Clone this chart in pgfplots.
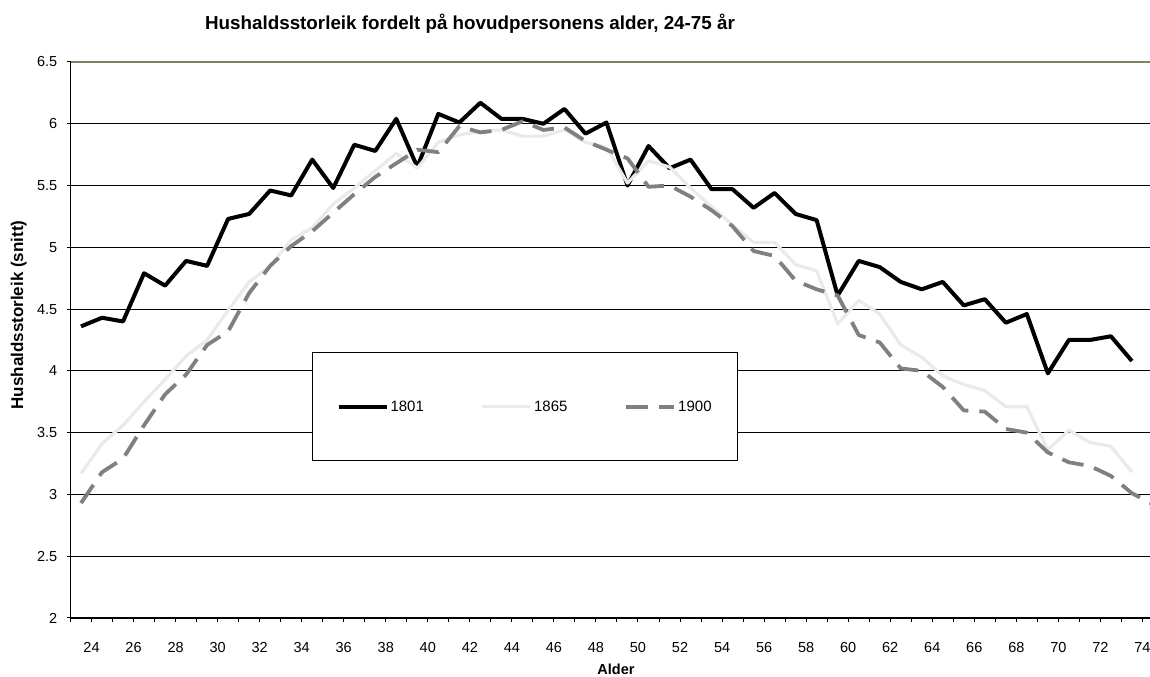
\documentclass[border=0pt]{standalone}
\usepackage{pgfplots}
\pgfplotsset{compat=1.18}
\usepackage{fontspec}
\setmainfont{Liberation Sans}
\definecolor{c1865}{RGB}{234,234,234}
\definecolor{c1900}{RGB}{128,128,128}
\definecolor{topline}{RGB}{128,128,100}

\pgfplotstableread{
age val
24 4.36
25 4.43
26 4.40
27 4.79
28 4.69
29 4.89
30 4.85
31 5.23
32 5.27
33 5.46
34 5.42
35 5.71
36 5.48
37 5.83
38 5.78
39 6.04
40 5.65
41 6.08
42 6.01
43 6.17
44 6.04
45 6.04
46 6.00
47 6.12
48 5.92
49 6.01
50 5.50
51 5.82
52 5.64
53 5.71
54 5.47
55 5.47
56 5.32
57 5.44
58 5.27
59 5.22
60 4.61
61 4.89
62 4.84
63 4.72
64 4.66
65 4.72
66 4.53
67 4.58
68 4.39
69 4.46
70 3.98
71 4.25
72 4.25
73 4.28
74 4.08
}\tabA

\pgfplotstableread{
age val
24 3.17
25 3.41
26 3.56
27 3.75
28 3.93
29 4.12
30 4.25
31 4.49
32 4.72
33 4.85
34 5.06
35 5.16
36 5.35
37 5.48
38 5.62
39 5.76
40 5.64
41 5.85
42 5.91
43 5.94
44 5.95
45 5.90
46 5.90
47 5.95
48 5.85
49 5.81
50 5.52
51 5.70
52 5.65
53 5.48
54 5.33
55 5.18
56 5.04
57 5.04
58 4.86
59 4.81
60 4.38
61 4.57
62 4.46
63 4.21
64 4.11
65 3.96
66 3.89
67 3.84
68 3.71
69 3.71
70 3.36
71 3.52
72 3.42
73 3.39
74 3.18
}\tabB

\pgfplotstableread{
age val
24 2.93
25 3.18
26 3.29
27 3.56
28 3.81
29 3.97
30 4.21
31 4.32
32 4.63
33 4.85
34 5.01
35 5.13
36 5.28
37 5.43
38 5.57
39 5.68
40 5.79
41 5.77
42 5.98
43 5.93
44 5.95
45 6.02
46 5.95
47 5.97
48 5.86
49 5.79
50 5.72
51 5.49
52 5.50
53 5.41
54 5.30
55 5.17
56 4.97
57 4.93
58 4.73
59 4.66
60 4.61
61 4.29
62 4.23
63 4.02
64 4.00
65 3.87
66 3.68
67 3.67
68 3.53
69 3.50
70 3.34
71 3.26
72 3.23
73 3.15
74 3.01
75 2.92
}\tabC

\begin{document}
\begin{tikzpicture}[x=1bp,y=1bp]
\path[use as bounding box] (0,0) rectangle (1150,677);
\clip (0,0) rectangle (1150,677);
\begin{axis}[
  at={(70.5bp,59bp)}, anchor=south west,
  scale only axis, width=1093bp, height=556bp,
  xmin=23.5, xmax=75.5, ymin=2, ymax=6.5,
  axis x line*=bottom, axis y line*=left,
  axis line style={-, line width=1.6bp, black},
  tick align=outside,
  major tick length=4bp, minor tick length=4bp,
  tick style={black, line width=1bp},
  xtick={24.5,26.5,28.5,30.5,32.5,34.5,36.5,38.5,40.5,42.5,44.5,46.5,48.5,50.5,52.5,54.5,56.5,58.5,60.5,62.5,64.5,66.5,68.5,70.5,72.5,74.5},
  xticklabels={24,26,28,30,32,34,36,38,40,42,44,46,48,50,52,54,56,58,60,62,64,66,68,70,72,74},
  minor xtick={23.5,25.5,27.5,29.5,31.5,33.5,35.5,37.5,39.5,41.5,43.5,45.5,47.5,49.5,51.5,53.5,55.5,57.5,59.5,61.5,63.5,65.5,67.5,69.5,71.5,73.5,75.5},
  ytick={2,2.5,3,3.5,4,4.5,5,5.5,6},
  extra y ticks={6.5},
  extra y tick style={grid style={topline, line width=1.3bp}},
  ymajorgrids,
  grid style={black, line width=0.9bp},
  /pgf/number format/assume math mode=true,
  ticklabel style={font=\fontsize{14.5bp}{17bp}\selectfont},
  xticklabel style={anchor=base, inner sep=0pt, yshift=-31bp},
  yticklabel style={anchor=east, inner sep=0pt, xshift=-9bp},
  legend columns=3,
  legend style={at={(0.221,0.478)}, anchor=north west, draw=black, line width=1bp, fill=white,
    font=\fontsize{15bp}{18bp}\selectfont, inner xsep=24bp, inner ysep=46bp,
    /tikz/every even column/.append style={column sep=55bp}},
  legend image code/.code={\draw[#1] (0bp,0bp) -- (48bp,0bp);},
]
\addplot[black, line width=4bp, line join=round] table[x=age, y=val] {\tabA};
\addlegendentry{1801}
\addplot[c1865, line width=3.2bp, line join=round] table[x=age, y=val] {\tabB};
\addlegendentry{1865}
\addplot[c1900, line width=3.8bp, line join=round, dash pattern=on 22bp off 11bp] table[x=age, y=val] {\tabC};
\addlegendentry{1900}
\end{axis}
\node[font=\bfseries\fontsize{18.8bp}{22bp}\selectfont, anchor=base] at (470,647) {Hushaldsstorleik fordelt på hovudpersonens alder, 24-75 år};
\node[font=\bfseries\fontsize{14.5bp}{17bp}\selectfont, anchor=base] at (616,2) {Alder};
\node[font=\bfseries\fontsize{17bp}{20bp}\selectfont, rotate=90, anchor=base] at (23,362) {Hushaldsstorleik (snitt)};
\end{tikzpicture}
\end{document}
